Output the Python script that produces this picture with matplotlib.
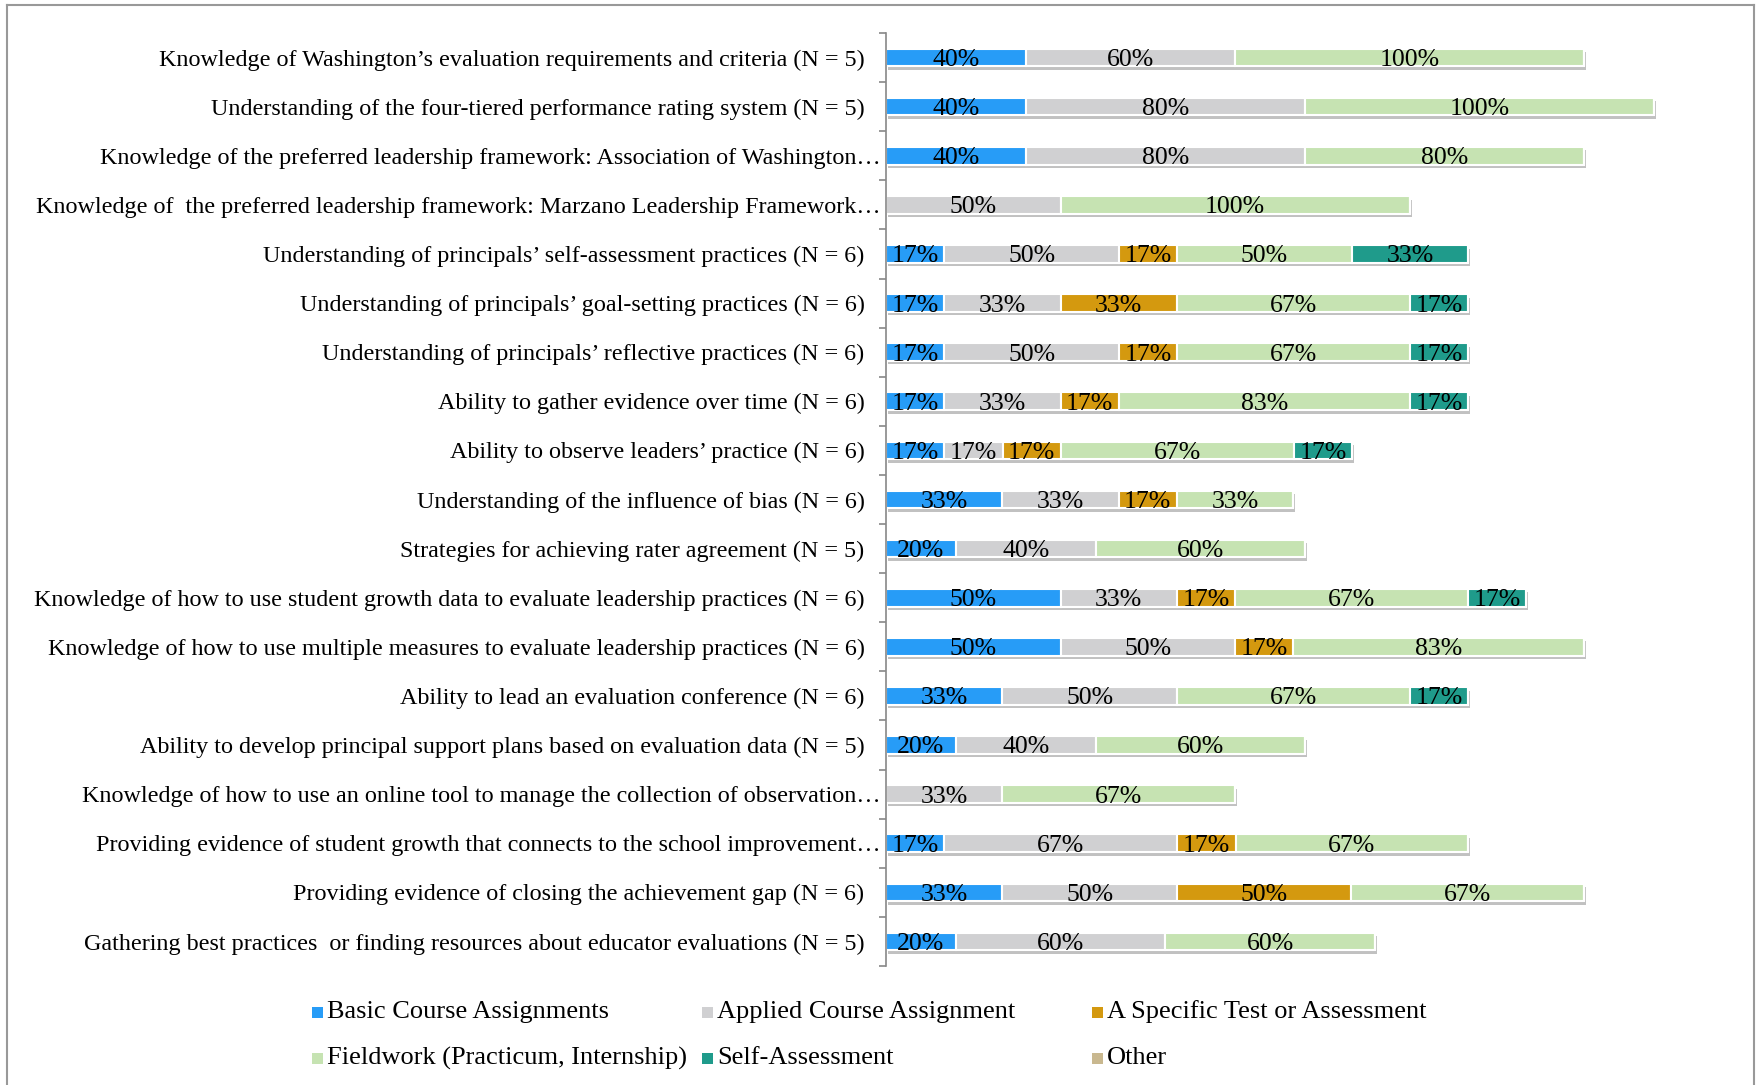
import numpy as np
import matplotlib
matplotlib.use('Agg')
import matplotlib.pyplot as plt
import matplotlib.patheffects as pe
import matplotlib.transforms as mtransforms
from matplotlib.patches import Rectangle
from matplotlib.lines import Line2D

plt.rcParams['font.family'] = ['Liberation Serif', 'DejaVu Serif']

# data
categories = [
    "Knowledge of Washington\u2019s evaluation requirements and criteria (N = 5)",
    "Understanding of the four-tiered performance rating system (N = 5)",
    "Knowledge of the preferred leadership framework: Association of Washington\u2026",
    "Knowledge of  the preferred leadership framework: Marzano Leadership Framework\u2026",
    "Understanding of principals\u2019 self-assessment practices (N = 6)",
    "Understanding of principals\u2019 goal-setting practices (N = 6)",
    "Understanding of principals\u2019 reflective practices (N = 6)",
    "Ability to gather evidence over time (N = 6)",
    "Ability to observe leaders\u2019 practice (N = 6)",
    "Understanding of the influence of bias (N = 6)",
    "Strategies for achieving rater agreement (N = 5)",
    "Knowledge of how to use student growth data to evaluate leadership practices (N = 6)",
    "Knowledge of how to use multiple measures to evaluate leadership practices (N = 6)",
    "Ability to lead an evaluation conference (N = 6)",
    "Ability to develop principal support plans based on evaluation data (N = 5)",
    "Knowledge of how to use an online tool to manage the collection of observation\u2026",
    "Providing evidence of student growth that connects to the school improvement\u2026",
    "Providing evidence of closing the achievement gap (N = 6)",
    "Gathering best practices  or finding resources about educator evaluations (N = 5)",
]
basic = [40, 40, 40, 0, 16.7, 16.7, 16.7, 16.7, 16.7, 33.3, 20, 50, 50, 33.3, 20, 0, 16.7, 33.3, 20]
applied = [60, 80, 80, 50, 50, 33.3, 50, 33.3, 16.7, 33.3, 40, 33.3, 50, 50, 40, 33.3, 66.7, 50, 60]
test = [0, 0, 0, 0, 16.7, 33.3, 16.7, 16.7, 16.7, 16.7, 0, 16.7, 16.7, 0, 0, 0, 16.7, 50, 0]
fieldwork = [100, 100, 80, 100, 50, 66.7, 66.7, 83.3, 66.7, 33.3, 60, 66.7, 83.3, 66.7, 60, 66.7, 66.7, 66.7, 60]
selfassess = [0, 0, 0, 0, 33.3, 16.7, 16.7, 16.7, 16.7, 0, 0, 16.7, 0, 16.7, 0, 0, 0, 0, 0]
other = [0] * 19

series_names = ["Basic Course Assignments", "Applied Course Assignment", "A Specific Test or Assessment",
                "Fieldwork (Practicum, Internship)", "Self-Assessment", "Other"]
series = [basic, applied, test, fieldwork, selfassess, other]
colors = ['#279CF7', '#D0D0D2', '#D4990F', '#C6E3B2', '#1F9B8B', '#C9B88F']

fig = plt.figure(figsize=(17.59, 10.85), dpi=100)
ax = fig.add_axes([886 / 1759, 1 - 966 / 1085, 838 / 1759, 933 / 1085])

y = np.arange(len(categories))
left = np.zeros(len(categories))
shadow = [pe.SimplePatchShadow(offset=(1.5, -2.5), shadow_rgbFace='#777777', alpha=0.45), pe.Normal()]
for name, vals, col in zip(series_names, series, colors):
    vals = np.array(vals, dtype=float)
    bars = ax.barh(y, vals, left=left, height=0.36, color=col, edgecolor='white',
                   linewidth=1.5, label=name, zorder=2)
    for b, v in zip(bars, vals):
        if v > 0:
            b.set_path_effects(shadow)
            ax.text(b.get_x() + v / 2, b.get_y() + b.get_height() / 2 + 0.05, f"{v:.0f}%",
                    ha='center', va='center', fontsize=18.5, color='black', zorder=3)
    left += vals

ax.set_xlim(0, 240)
ax.set_ylim(len(categories) - 0.5, -0.5)
ax.set_yticks(y)
ax.set_yticklabels(categories, fontsize=17.4)
ax.set_yticks(np.arange(len(categories) + 1) - 0.5, minor=True)
ax.tick_params(axis='y', which='major', length=0, pad=15.5)
ax.tick_params(axis='y', which='minor', length=5, color='#888888', width=1.2)
ax.set_xticks([])
for s in ['top', 'right', 'bottom']:
    ax.spines[s].set_visible(False)
ax.spines['left'].set_color('#888888')
ax.spines['left'].set_linewidth(1.2)

# truncated labels run right up to the axis in the original
shift = mtransforms.ScaledTranslation(0.16, 0, fig.dpi_scale_trans)
for lbl in ax.get_yticklabels():
    if lbl.get_text().endswith('\u2026'):
        lbl.set_transform(lbl.get_transform() + shift)

# legend laid out like the original (row-wise, fixed slots)
leg_x = [312, 702, 1092]
leg_y = [1012, 1058]
for i, (name, col) in enumerate(zip(series_names, colors)):
    px = leg_x[i % 3]
    py = leg_y[i // 3]
    fig.patches.append(Rectangle((px / 1759, 1 - (py + 6) / 1085), 11 / 1759, 11 / 1085,
                                 transform=fig.transFigure, facecolor=col, edgecolor='none'))
    fig.text((px + 15) / 1759, 1 - py / 1085, name, fontsize=19, ha='left', va='center')

# chart frame
fc = '#999999'
fig.add_artist(Line2D([7 / 1759, 7 / 1759], [0, 1 - 5 / 1085], color=fc, lw=1.5, transform=fig.transFigure))
fig.add_artist(Line2D([7 / 1759, 1754 / 1759], [1 - 5 / 1085, 1 - 5 / 1085], color=fc, lw=1.5, transform=fig.transFigure))
fig.add_artist(Line2D([1754 / 1759, 1754 / 1759], [0, 1 - 5 / 1085], color=fc, lw=1.5, transform=fig.transFigure))

fig.savefig('out.png', dpi=100)
